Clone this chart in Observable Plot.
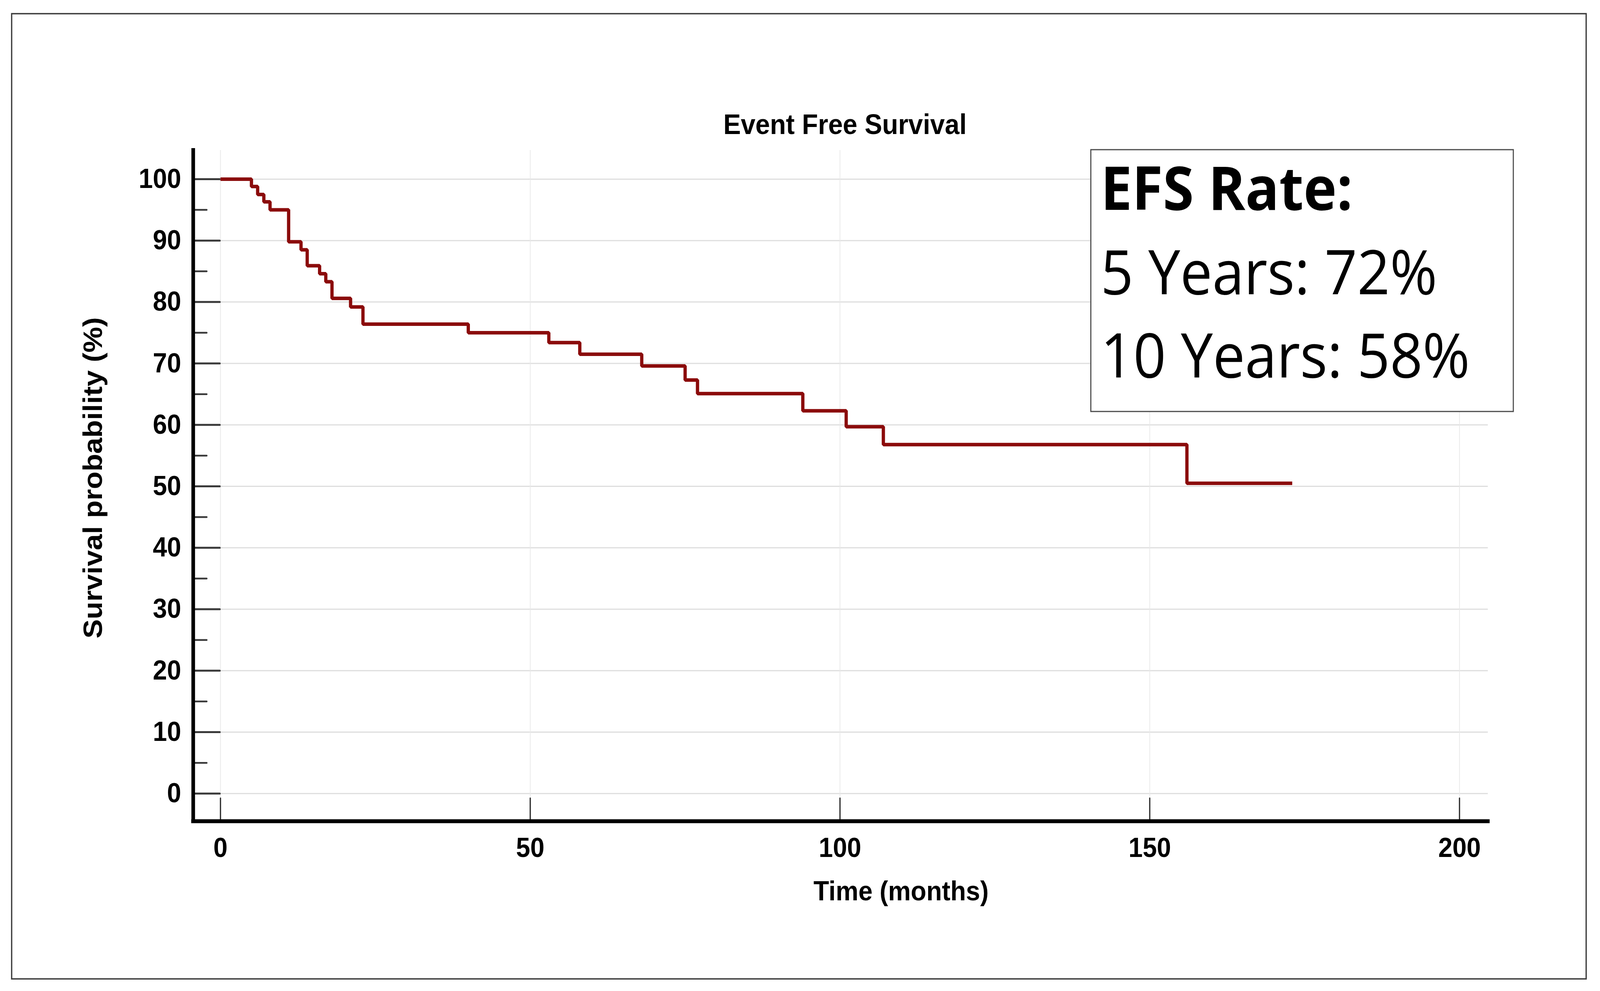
<!DOCTYPE html>
<html><head><meta charset="utf-8">
<script src="https://cdn.jsdelivr.net/npm/d3@7"></script>
<script src="https://cdn.jsdelivr.net/npm/@observablehq/plot@0.6"></script>
<style>
html,body{margin:0;padding:0;background:#fff;overflow:hidden;}
#wrap{position:relative;width:100vw;height:100vh;overflow:hidden;background:#fff;}
#wrap svg{position:absolute;left:0;top:0;width:100vw !important;height:100vh !important;max-width:none !important;}
</style></head><body><div id="wrap"></div>
<script>
const titleText = "Event Free Survival";
const xLabel = "Time (months)";
const yLabel = "Survival probability (%)";
const times    = [0, 5, 6, 7, 8, 11, 13, 14, 16, 17, 18, 21, 23, 40, 53, 58, 68, 75, 77, 94, 101, 107, 156, 173];
const survival = [100, 98.8, 97.5, 96.3, 95.0, 89.8, 88.5, 85.9, 84.6, 83.3, 80.6, 79.2, 76.4, 75.0, 73.4, 71.5, 69.6, 67.3, 65.1, 62.3, 59.7, 56.8, 50.5, 50.5];
const xTicks = [0, 50, 100, 150, 200];
const yTicks = [0, 10, 20, 30, 40, 50, 60, 70, 80, 90, 100];
const yMinorTicks = [5, 15, 25, 35, 45, 55, 65, 75, 85, 95];
const xDomain = [-4.4, 204.6];
const yDomain = [-4.5, 104.7];
const boxLines = ["EFS Rate:", "5 Years: 72%", "10 Years: 58%"];

const data = times.map((t, i) => ({time: t, surv: survival[i]}));
const tickShape = {draw(context, l) { context.moveTo(0, 0); context.lineTo(0, -l); }};

const W = 4393, H = 2536;
const font = "'Liberation Sans', Arial, Helvetica, sans-serif";
const chart = Plot.plot({
  width: W, height: H,
  marginLeft: 530, marginRight: 308, marginTop: 384, marginBottom: 435,
  style: {fontFamily: font, background: "#fff", maxWidth: "none", overflow: "visible"},
  x: {domain: xDomain},
  y: {domain: yDomain},
  marks: [
    Plot.gridY(yTicks, {stroke: "#dedede", strokeOpacity: 1, strokeWidth: 3}),
    Plot.gridX(xTicks, {stroke: "#e8e8e8", strokeOpacity: 1, strokeWidth: 2}),
    Plot.vector(yTicks, {y: d => d, frameAnchor: "left", rotate: 90, length: 73, anchor: "start", shape: tickShape, stroke: "#3a3a3a", strokeWidth: 5}),
    Plot.vector(yMinorTicks, {y: d => d, frameAnchor: "left", rotate: 90, length: 37, anchor: "start", shape: tickShape, stroke: "#3a3a3a", strokeWidth: 4.5}),
    Plot.vector(xTicks, {x: d => d, frameAnchor: "bottom", rotate: 0, length: 59, anchor: "start", shape: tickShape, stroke: "#333", strokeWidth: 3.5}),
    Plot.axisY({ticks: yTicks, tickSize: 0, tickPadding: 33, fontSize: 70, fontWeight: "bold", fill: "#000", label: null}),
    Plot.axisX({ticks: xTicks, tickSize: 0, tickPadding: 42, fontSize: 70, fontWeight: "bold", fill: "#000", label: null}),
    Plot.line(data, {x: "time", y: "surv", curve: "step-after", stroke: "#8b0b0b", strokeWidth: 9, strokeLinejoin: "miter", strokeLinecap: "butt"}),
    Plot.ruleX([xDomain[0]], {stroke: "#000", strokeWidth: 10, strokeLinecap: "square"}),
    Plot.ruleY([yDomain[0]], {stroke: "#000", strokeWidth: 10, strokeLinecap: "square"}),
    Plot.text([titleText], {text: d => d, frameAnchor: "top", dx: 12, dy: -42, lineAnchor: "bottom", fontSize: 72, fontWeight: "bold", fill: "#000"}),
    Plot.text([xLabel], {text: d => d, frameAnchor: "bottom", dx: 166, dy: 202, lineAnchor: "bottom", fontSize: 70, fontWeight: "bold", fill: "#000"}),
    Plot.text([yLabel], {text: d => d, frameAnchor: "left", rotate: -90, dx: -274, dy: -20, lineAnchor: "middle", textAnchor: "middle", fontSize: 74, fontWeight: "bold", fill: "#000"})
  ]
});
chart.setAttribute("preserveAspectRatio", "none");
document.getElementById("wrap").appendChild(chart);

// annotation box and outer border
const svg = d3.select(chart);
svg.append("rect").attr("x", 32).attr("y", 35).attr("width", 4323).attr("height", 2470)
  .attr("fill", "none").attr("stroke", "#3c3c3c").attr("stroke-width", 3.5);
const box = svg.append("g").attr("text-anchor", "start");
box.append("rect").attr("x", 2995).attr("y", 383).attr("width", 1160).attr("height", 670)
  .attr("fill", "#fff").attr("stroke", "#4a4a4a").attr("stroke-width", 3);
const boxBaselines = [537, 753, 966];
box.selectAll("text").data(boxLines).join("text")
  .attr("x", 3022).attr("y", (d, i) => boxBaselines[i])
  .attr("text-anchor", "start")
  .attr("font-family", "'Open Sans', 'Noto Sans', sans-serif")
  .attr("font-size", (d, i) => i === 0 ? 154 : 157)
  .attr("font-weight", (d, i) => i === 0 ? 700 : 400)
  .attr("fill", "#000")
  .text(d => d);
</script></body></html>
